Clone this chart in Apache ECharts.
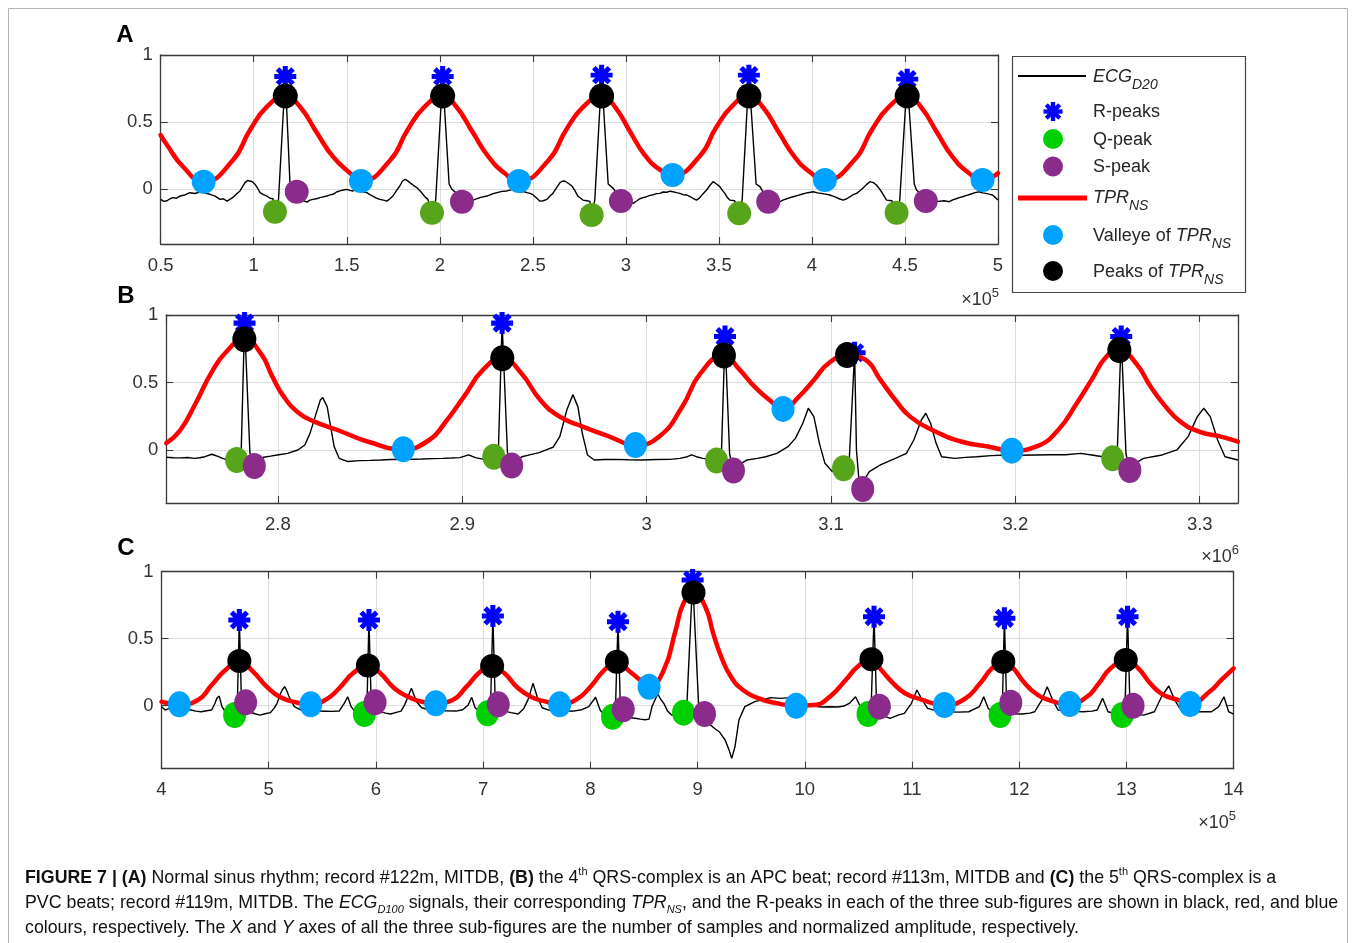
<!DOCTYPE html>
<html>
<head>
<meta charset="utf-8">
<title>FIGURE 7</title>
<script src="https://cdn.jsdelivr.net/npm/echarts@6/dist/echarts.min.js"></script>
<style>
  html, body { margin: 0; padding: 0; background: #fff; }
  #chart { width: 1356px; height: 943px; }
</style>
</head>
<body>
<div id="chart"></div>
<script>
// ---------------- Panel A : record #122m (x in units of 1e5 samples) ----------------
const A_xRange = [0.5, 5];
const A_yRange = [-0.407, 1];
const A_ecg = [
  [0.500,-0.075],[0.517,-0.09],[0.534,-0.085],[0.550,-0.07],[0.566,-0.062],[0.585,-0.066],[0.604,-0.05],[0.630,-0.042],[0.657,-0.025],[0.684,-0.031],[0.711,-0.02],[0.738,-0.028],[0.765,-0.037],[0.792,-0.05],[0.819,-0.075],[0.837,-0.07],[0.856,-0.088],[0.872,-0.075],[0.888,-0.06],[0.907,-0.035],[0.926,-0.012],[0.940,0.02],[0.953,0.05],[0.967,0.066],[0.980,0.062],[0.993,0.055],[1.007,0.037],[1.020,0.01],[1.034,-0.025],[1.052,-0.04],[1.071,-0.05],[1.087,-0.066],[1.103,-0.07],
  [1.114,-0.16],[1.133,-0.08],[1.1695,0.84],[1.195,0.04],[1.211,-0.01],[1.232,-0.03],[1.249,-0.075],[1.268,-0.085],[1.286,-0.095],[1.302,-0.08],[1.318,-0.075],[1.337,-0.07],[1.356,-0.062],[1.374,-0.056],[1.393,-0.05],[1.410,-0.041],[1.426,-0.037],[1.445,-0.02],[1.463,-0.012],[1.482,-0.005],[1.501,0],[1.517,-0.008],[1.533,-0.012],[1.552,-0.004],[1.570,-0.012],[1.589,-0.02],[1.608,-0.025],[1.624,-0.04],[1.640,-0.05],[1.659,-0.065],[1.678,-0.075],[1.697,-0.08],[1.716,-0.088],[1.732,-0.07],[1.748,-0.05],[1.767,-0.01],[1.785,0.025],[1.799,0.06],[1.813,0.075],[1.826,0.065],[1.839,0.05],[1.858,0.03],[1.877,0.012],[1.893,-0.01],[1.909,-0.037],[1.923,-0.06],[1.936,-0.075],
  [1.958,-0.17],[1.978,-0.08],[2.0153,0.84],[2.050,0.04],[2.0653,0.0],[2.090,-0.03],[2.119,-0.085],[2.150,-0.08],[2.170,-0.086],[2.189,-0.075],[2.220,-0.06],[2.253,-0.05],[2.280,-0.035],[2.307,-0.025],[2.335,-0.015],[2.361,-0.012],[2.393,0.0],[2.410,-0.01],[2.431,-0.02],[2.450,-0.016],[2.468,-0.025],[2.485,-0.03],[2.500,-0.04],[2.520,-0.065],[2.538,-0.088],[2.556,-0.085],[2.575,-0.075],[2.592,-0.05],[2.608,-0.03],[2.627,0.01],[2.646,0.05],[2.660,0.062],[2.673,0.06],[2.690,0.045],[2.710,0.025],[2.726,-0.01],[2.742,-0.05],[2.769,-0.08],[2.790,-0.085],[2.807,-0.09],
  [2.816,-0.19],[2.833,-0.08],[2.8697,0.85],[2.905,0.04],[2.932,0.007],[2.955,-0.04],[2.9735,-0.085],[3.000,-0.095],[3.020,-0.09],[3.0395,-0.104],[3.060,-0.085],[3.075,-0.07],[3.093,-0.062],[3.1115,-0.055],[3.130,-0.045],[3.148,-0.04],[3.165,-0.032],[3.183,-0.03],[3.200,-0.02],[3.220,-0.022],[3.237,-0.014],[3.254,-0.018],[3.272,-0.025],[3.290,-0.03],[3.308,-0.04],[3.326,-0.042],[3.353,-0.06],[3.367,-0.072],[3.380,-0.08],[3.395,-0.066],[3.407,-0.045],[3.420,-0.025],[3.434,-0.005],[3.452,0.03],[3.469,0.057],[3.487,0.04],[3.505,0.02],[3.520,-0.01],[3.532,-0.03],[3.545,-0.06],[3.559,-0.08],[3.585,-0.085],
  [3.609,-0.18],[3.625,-0.08],[3.6612,0.85],[3.700,0.04],[3.7205,0.02],[3.745,-0.04],[3.765,-0.088],[3.782,-0.09],[3.800,-0.095],[3.828,-0.092],[3.847,-0.078],[3.865,-0.07],[3.882,-0.062],[3.899,-0.055],[3.925,-0.045],[3.950,-0.035],[3.978,-0.025],[4.007,-0.018],[4.030,-0.026],[4.050,-0.03],[4.073,-0.036],[4.096,-0.042],[4.113,-0.05],[4.130,-0.06],[4.150,-0.072],[4.168,-0.08],[4.187,-0.07],[4.205,-0.055],[4.222,-0.04],[4.240,-0.03],[4.258,-0.01],[4.275,0.01],[4.293,0.035],[4.311,0.057],[4.330,0.05],[4.347,0.032],[4.362,0.005],[4.375,-0.02],[4.388,-0.05],[4.401,-0.08],[4.430,-0.085],
  [4.455,-0.175],[4.472,-0.08],[4.5119,0.82],[4.550,0.04],[4.562,-0.005],[4.590,-0.04],[4.612,-0.087],[4.645,-0.085],[4.680,-0.09],[4.710,-0.085],[4.7376,-0.092],[4.757,-0.078],[4.775,-0.07],[4.792,-0.062],[4.809,-0.055],[4.832,-0.045],[4.855,-0.035],[4.877,-0.025],[4.899,-0.018],[4.918,-0.026],[4.935,-0.03],[4.952,-0.036],[4.9702,-0.042],[4.985,-0.06],[5.000,-0.08]
];
const A_tpr = [
  [0.500,0.404],[0.534,0.330],[0.620,0.168],[0.7311,0.057],[0.8885,0.218],[0.9799,0.442],[1.0712,0.615],[1.1695,0.695],[1.2485,0.615],[1.3399,0.419],[1.4258,0.243],[1.5172,0.121],[1.5763,0.062],
  [1.7343,0.218],[1.8265,0.442],[1.9187,0.615],[2.0153,0.695],[2.0891,0.615],[2.1793,0.419],[2.2613,0.243],[2.3474,0.121],[2.4253,0.062],
  [2.5853,0.218],[2.6786,0.442],[2.7719,0.615],[2.8697,0.695],[2.9384,0.62],[3.0223,0.43],[3.0987,0.26],[3.1788,0.15],[3.2513,0.106],
  [3.3989,0.25],[3.4850,0.46],[3.5711,0.62],[3.6612,0.695],[3.7347,0.615],[3.8246,0.419],[3.9063,0.243],[3.9921,0.125],[4.0697,0.069],
  [4.2289,0.22],[4.3217,0.442],[4.4146,0.615],[4.5119,0.695],[4.5848,0.615],[4.6739,0.419],[4.7550,0.243],[4.8400,0.125],[4.9170,0.069],[5.000,0.12]
];
const A_rPeaks = [[1.1695,0.84],[2.0153,0.84],[2.8697,0.85],[3.6612,0.85],[4.5119,0.82]];
const A_qPeaks = [[1.114,-0.167],[1.958,-0.174],[2.816,-0.191],[3.609,-0.179],[4.455,-0.174]];
const A_sPeaks = [[1.231,-0.018],[2.119,-0.092],[2.9735,-0.087],[3.765,-0.092],[4.612,-0.087]];
const A_valleys = [[0.7311,0.057],[1.5763,0.062],[2.4253,0.062],[3.2513,0.106],[4.0697,0.069],[4.917,0.069]];
const A_tprPeaks = [[1.1695,0.695],[2.0153,0.695],[2.8697,0.695],[3.6612,0.695],[4.5119,0.695]];

// ---------------- Panel B : record #113m (x in units of 1e6 samples) ----------------
const B_xRange = [2.7394, 3.3207];
const B_yRange = [-0.393, 1];
const B_ecg = [
  [2.7394,-0.054],[2.7433,-0.058],[2.7473,-0.059],[2.7510,-0.056],[2.7547,-0.062],[2.7575,-0.058],[2.7604,-0.05],[2.7641,-0.032],[2.7678,-0.05],[2.7700,-0.062],[2.7725,-0.074],[2.7776,-0.074],[2.7800,-0.05],[2.7819,0.94],[2.7848,-0.02],[2.7872,-0.119],[2.7895,-0.09],[2.7921,-0.054],[2.7960,-0.046],[2.7996,-0.037],[2.8052,-0.025],[2.8108,0],[2.8146,0.037],[2.8174,0.123],[2.8202,0.247],[2.8230,0.37],[2.8243,0.388],[2.8267,0.321],[2.8286,0.173],[2.8305,0.025],[2.8332,-0.062],[2.8380,-0.086],[2.8445,-0.079],[2.8500,-0.077],[2.8557,-0.074],[2.8612,-0.071],[2.8669,-0.07],[2.8725,-0.069],[2.8781,-0.067],[2.8840,-0.064],[2.8894,-0.062],[2.8940,-0.06],[2.8987,-0.057],[2.9034,-0.037],[2.9071,-0.057],[2.9118,-0.07],[2.9171,-0.05],[2.9195,-0.04],[2.9216,0.94],[2.9245,-0.02],[2.9268,-0.116],[2.9290,-0.08],[2.9324,-0.05],[2.9370,-0.035],[2.9417,-0.02],[2.9455,0.0],[2.9492,0.02],[2.9529,0.099],[2.9567,0.296],[2.9600,0.41],[2.9627,0.321],[2.9651,0.123],[2.9679,-0.037],[2.9716,-0.074],[2.9770,-0.071],[2.9828,-0.07],[2.9900,-0.072],[2.9978,-0.074],[3.0050,-0.071],[3.0127,-0.07],[3.0180,-0.062],[3.0221,-0.05],[3.0244,-0.037],[3.0270,-0.05],[3.0304,-0.062],[3.0340,-0.07],[3.0379,-0.079],[3.0405,-0.05],[3.0425,0.84],[3.0450,-0.03],[3.0471,-0.153],[3.0500,-0.11],[3.0545,-0.074],[3.0600,-0.062],[3.0646,-0.05],[3.0706,-0.025],[3.0767,0.025],[3.0807,0.086],[3.0847,0.198],[3.0877,0.309],[3.0907,0.247],[3.0937,0.049],[3.0967,-0.099],[3.1007,-0.16],[3.1040,-0.15],[3.1068,-0.136],[3.1098,-0.1],[3.1128,0.72],[3.1138,0.0],[3.1150,-0.198],[3.1172,-0.289],[3.1190,-0.2],[3.1208,-0.16],[3.1268,-0.111],[3.1349,-0.062],[3.1409,-0.025],[3.1449,0.074],[3.1490,0.222],[3.1514,0.272],[3.1540,0.198],[3.1570,0.049],[3.1600,-0.05],[3.1671,-0.062],[3.1730,-0.055],[3.1791,-0.05],[3.1870,-0.042],[3.1952,-0.037],[3.2030,-0.039],[3.2113,-0.037],[3.2190,-0.036],[3.2273,-0.035],[3.2354,-0.025],[3.2414,-0.037],[3.2474,-0.05],[3.2528,-0.062],[3.2552,-0.04],[3.2574,0.84],[3.2600,-0.03],[3.2621,-0.148],[3.2650,-0.1],[3.2695,-0.062],[3.2796,-0.037],[3.2876,0],[3.2937,0.099],[3.2987,0.247],[3.3022,0.309],[3.3057,0.247],[3.3097,0.074],[3.3137,-0.05],[3.3207,-0.074]
];
const B_tpr = [
  [2.7394,0.05],[2.7471,0.148],[2.7554,0.346],[2.7637,0.568],[2.7720,0.728],[2.7818,0.82],[2.7907,0.716],[2.7970,0.543],[2.8032,0.395],[2.8115,0.272],[2.8198,0.21],[2.8323,0.148],[2.8490,0.061],[2.8680,0.005],
  [2.8821,0.074],[2.8904,0.198],[2.9009,0.395],[2.9112,0.593],[2.9217,0.68],[2.9320,0.568],[2.9423,0.37],[2.9528,0.247],[2.9653,0.173],[2.9798,0.099],[2.9939,0.037],
  [3.0068,0.099],[3.0193,0.32],[3.0292,0.568],[3.0419,0.70],[3.0505,0.593],[3.0585,0.469],[3.0666,0.37],[3.0740,0.304],
  [3.0826,0.395],[3.0907,0.519],[3.0987,0.642],[3.1087,0.704],[3.1188,0.667],[3.1268,0.519],[3.1349,0.37],[3.1429,0.247],[3.1549,0.148],[3.1710,0.061],[3.1851,0.025],[3.1981,-0.005],
  [3.2112,0.025],[3.2232,0.148],[3.2333,0.346],[3.2413,0.519],[3.2493,0.691],[3.2564,0.74],[3.2654,0.642],[3.2734,0.469],[3.2815,0.321],[3.2895,0.21],[3.2996,0.136],[3.3116,0.099],[3.3207,0.061]
];
const B_rPeaks = [[2.7819,0.94],[2.9216,0.94],[3.0425,0.84],[3.1128,0.72],[3.2574,0.84]];
const B_qPeaks = [[2.7776,-0.074],[2.9171,-0.05],[3.0379,-0.079],[3.1068,-0.136],[3.2528,-0.062]];
const B_sPeaks = [[2.7872,-0.119],[2.9268,-0.116],[3.0471,-0.153],[3.1172,-0.289],[3.2621,-0.148]];
const B_valleys = [[2.868,0.005],[2.9939,0.037],[3.074,0.304],[3.1981,-0.005]];
const B_tprPeaks = [[2.7818,0.82],[2.9217,0.68],[3.0419,0.70],[3.1087,0.704],[3.2564,0.74]];

// ---------------- Panel C : record #119m (x in units of 1e5 samples) ----------------
const C_xRange = [4, 14];
const C_yRange = [-0.47, 1];
const C_ecg = [
  [4.000,-0.007],[4.035,-0.032],[4.075,-0.02],[4.115,-0.015],[4.160,-0.025],[4.200,-0.03],[4.240,-0.027],[4.275,-0.032],[4.320,-0.04],[4.371,-0.045],[4.420,-0.038],[4.468,-0.032],[4.500,0.02],[4.516,0.055],[4.538,0.072],[4.552,0.03],[4.564,-0.007],[4.596,-0.045],[4.640,-0.06],[4.682,-0.069],[4.705,-0.06],[4.726,0.64],[4.748,-0.04],[4.785,-0.045],[4.821,-0.045],[4.870,-0.06],[4.918,-0.07],[4.965,-0.06],[5.014,-0.052],[5.050,-0.02],[5.078,0.018],[5.110,0.09],[5.126,0.117],[5.149,0.142],[5.170,0.11],[5.190,0.067],[5.239,-0.007],[5.303,-0.032],[5.360,-0.038],[5.420,-0.034],[5.470,-0.04],[5.528,-0.041],[5.590,-0.042],[5.657,-0.04],[5.704,0.018],[5.737,0.067],[5.769,-0.007],[5.801,-0.04],[5.850,-0.055],[5.892,-0.062],[5.915,-0.05],[5.935,0.64],[5.958,-0.04],[6.000,-0.045],[6.042,-0.045],[6.090,-0.055],[6.138,-0.062],[6.190,-0.05],[6.234,-0.04],[6.270,0.01],[6.299,0.067],[6.331,0.13],[6.355,0.08],[6.379,0.03],[6.427,-0.015],[6.490,-0.03],[6.556,-0.032],[6.650,-0.038],[6.748,-0.04],[6.810,-0.03],[6.861,0.006],[6.893,0.063],[6.925,-0.015],[6.973,-0.045],[7.010,-0.052],[7.041,-0.057],[7.068,-0.045],[7.091,0.67],[7.115,-0.035],[7.150,-0.04],[7.199,-0.04],[7.260,-0.052],[7.327,-0.062],[7.380,-0.02],[7.424,0.055],[7.465,0.167],[7.504,0.067],[7.551,-0.015],[7.620,-0.035],[7.680,-0.04],[7.760,-0.042],[7.841,-0.04],[7.920,-0.03],[7.985,-0.007],[8.049,0.063],[8.091,-0.032],[8.130,-0.07],[8.170,-0.078],[8.207,-0.082],[8.233,-0.06],[8.258,0.627],[8.282,-0.06],[8.307,-0.08],[8.360,-0.09],[8.419,-0.094],[8.464,-0.1],[8.510,-0.105],[8.548,-0.1],[8.575,-0.007],[8.612,0.06],[8.630,0.087],[8.655,0.05],[8.685,0.018],[8.720,-0.04],[8.758,-0.07],[8.820,-0.06],[8.869,-0.052],[8.899,-0.02],[8.954,0.938],[9.017,-0.107],[9.065,-0.09],[9.100,-0.13],[9.160,-0.17],[9.202,-0.194],[9.257,-0.256],[9.294,-0.33],[9.319,-0.393],[9.349,-0.306],[9.386,-0.107],[9.441,-0.007],[9.534,0.03],[9.610,0.045],[9.681,0.06],[9.770,0.055],[9.866,0.06],[9.940,0.04],[10.013,0.0],[10.090,-0.005],[10.160,-0.01],[10.230,-0.008],[10.308,-0.01],[10.370,-0.002],[10.419,0.02],[10.474,0.067],[10.511,0.005],[10.560,-0.02],[10.590,-0.05],[10.618,-0.04],[10.646,0.664],[10.672,-0.05],[10.720,-0.07],[10.796,-0.094],[10.870,-0.07],[10.929,-0.057],[10.995,0.018],[11.046,0.117],[11.095,0.043],[11.146,-0.02],[11.240,-0.04],[11.328,-0.045],[11.430,-0.048],[11.529,-0.045],[11.629,-0.007],[11.669,0.067],[11.712,-0.02],[11.762,-0.057],[11.822,-0.069],[11.842,-0.05],[11.862,0.652],[11.885,-0.05],[11.930,-0.06],[12.028,-0.062],[12.100,-0.055],[12.145,-0.045],[12.212,0.043],[12.261,0.142],[12.312,0.043],[12.362,-0.032],[12.480,-0.04],[12.595,-0.045],[12.680,-0.04],[12.728,-0.032],[12.778,0.055],[12.829,-0.045],[12.900,-0.06],[12.961,-0.069],[12.985,-0.05],[13.011,0.664],[13.035,-0.05],[13.090,-0.065],[13.161,-0.07],[13.261,-0.045],[13.328,0.067],[13.395,0.147],[13.451,0.043],[13.507,-0.032],[13.590,-0.04],[13.673,-0.045],[13.794,-0.045],[13.861,-0.007],[13.910,0.067],[13.954,-0.045],[14.000,-0.062]
];
const C_tpr = [
  [4.000,0.03],[4.050,0.02],[4.166,0.01],[4.340,0.043],[4.468,0.154],[4.596,0.266],[4.726,0.334],[4.854,0.254],[4.981,0.142],[5.110,0.063],[5.271,0.022],[5.392,0.01],
  [5.528,0.043],[5.657,0.13],[5.785,0.242],[5.925,0.30],[6.042,0.242],[6.171,0.13],[6.299,0.067],[6.427,0.03],[6.558,0.018],
  [6.716,0.043],[6.845,0.142],[6.973,0.254],[7.084,0.296],[7.199,0.242],[7.327,0.13],[7.455,0.063],[7.584,0.03],[7.714,0.01],
  [7.873,0.048],[8.001,0.142],[8.130,0.266],[8.247,0.328],[8.370,0.254],[8.483,0.18],[8.548,0.142],
  [8.685,0.266],[8.796,0.565],[8.869,0.764],[8.962,0.845],[9.072,0.739],[9.146,0.54],[9.220,0.366],[9.312,0.216],[9.423,0.117],[9.570,0.055],[9.717,0.022],[9.920,0.0],
  [10.087,0.005],[10.234,0.067],[10.382,0.192],[10.493,0.291],[10.622,0.346],[10.714,0.266],[10.825,0.167],[10.935,0.093],[11.082,0.048],[11.302,0.005],
  [11.488,0.048],[11.636,0.167],[11.746,0.279],[11.852,0.328],[11.931,0.291],[12.041,0.179],[12.152,0.093],[12.299,0.037],[12.471,0.013],
  [12.632,0.067],[12.743,0.167],[12.853,0.279],[12.994,0.341],[13.111,0.279],[13.222,0.167],[13.332,0.087],[13.480,0.043],[13.594,0.013],
  [13.775,0.104],[13.886,0.192],[14.000,0.279]
];
const C_rPeaks = [[4.726,0.64],[5.935,0.64],[7.091,0.67],[8.258,0.627],[8.954,0.938],[10.646,0.664],[11.862,0.652],[13.011,0.664]];
const C_qPeaks = [[4.682,-0.069],[5.892,-0.062],[7.041,-0.057],[8.207,-0.082],[8.869,-0.052],[10.590,-0.062],[11.822,-0.069],[12.961,-0.069]];
const C_sPeaks = [[4.785,0.025],[5.992,0.025],[7.141,0.01],[8.307,-0.027],[9.065,-0.062],[10.696,-0.007],[11.922,0.022],[13.062,0.0]];
const C_valleys = [[4.166,0.01],[5.392,0.01],[6.558,0.018],[7.714,0.01],[8.548,0.142],[9.920,0.0],[11.302,0.005],[12.471,0.013],[13.594,0.013]];
const C_tprPeaks = [[4.726,0.334],[5.925,0.30],[7.084,0.296],[8.247,0.328],[8.962,0.845],[10.622,0.346],[11.852,0.328],[12.994,0.341]];

// ---------------- Styling ----------------
const FONT = '"Liberation Sans", Arial, Helvetica, sans-serif';
const COL = {
  ecg: '#000000', tpr: '#ff0000', r: '#0000ff',
  qDark: '#57a51b', qBright: '#00cf00', s: '#8b2c8d',
  valley: '#00a2ff', peak: '#000000',
  axis: '#3a3a3a', grid: '#dddddd', label: '#333333'
};

// 8-armed asterisk marker built from four crossed bars (unit radius)
const STAR_BARS = [0, 45, 90, 135].map(deg => {
  const w = 0.23, a = deg * Math.PI / 180, c = Math.cos(a), s = Math.sin(a);
  return [[-1, -w], [1, -w], [1, w], [-1, w]].map(([x, y]) => [x * c - y * s, x * s + y * c]);
});
const STAR = 'path://' + STAR_BARS.map(b =>
  'M' + b.map(p => p[0].toFixed(4) + ' ' + p[1].toFixed(4)).join(' L') + ' Z').join(' ');

const panels = [
  { key: 'A', rect: { left: 160.7, top: 55, width: 837.3, height: 189 },
    xr: A_xRange, yr: A_yRange, xStep: 0.5,
    ecg: A_ecg, tpr: A_tpr, r: A_rPeaks, q: A_qPeaks, s: A_sPeaks, v: A_valleys, p: A_tprPeaks,
    qColor: COL.qDark, dot: 24, blackDot: 25, star: [22, 21], endLabels: true },
  { key: 'B', rect: { left: 166.2, top: 315, width: 1071.7, height: 188 },
    xr: B_xRange, yr: B_yRange, xStep: null,
    ecg: B_ecg, tpr: B_tpr, r: B_rPeaks, q: B_qPeaks, s: B_sPeaks, v: B_valleys, p: B_tprPeaks,
    qColor: COL.qDark, dot: [23, 26], blackDot: [24, 26], star: [22, 22], endLabels: false },
  { key: 'C', rect: { left: 161.5, top: 571.7, width: 1072.1, height: 197 },
    xr: C_xRange, yr: C_yRange, xStep: 1,
    ecg: C_ecg, tpr: C_tpr, r: C_rPeaks, q: C_qPeaks, s: C_sPeaks, v: C_valleys, p: C_tprPeaks,
    qColor: COL.qBright, dot: [23, 26], blackDot: [24, 24], star: [22, 22], endLabels: true }
];

const option = {
  animation: false,
  backgroundColor: '#ffffff',
  grid: [], xAxis: [], yAxis: [], series: [], graphic: []
};

const axisLine = { show: true, onZero: false, lineStyle: { color: COL.axis, width: 1.3 } };
const axisTick = { show: true, inside: true, length: 7, lineStyle: { color: COL.axis, width: 1.1 } };
const splitLine = { show: true, lineStyle: { color: COL.grid, width: 1 } };
const tickFont = { color: COL.label, fontSize: 18.5, fontFamily: FONT };

panels.forEach((pn, i) => {
  option.grid.push(Object.assign({ outerBoundsMode: 'none', containLabel: false }, pn.rect));

  const xBase = { type: 'value', gridIndex: i, min: pn.xr[0], max: pn.xr[1] };
  if (pn.xStep) xBase.interval = pn.xStep; else xBase.splitNumber = 5;
  option.xAxis.push(Object.assign({}, xBase, {
    position: 'bottom', axisLine, axisTick, splitLine,
    axisLabel: Object.assign({ margin: 12, showMinLabel: pn.endLabels, showMaxLabel: pn.endLabels }, tickFont)
  }));
  option.xAxis.push(Object.assign({}, xBase, {
    position: 'top', axisLine, axisTick, splitLine: { show: false }, axisLabel: { show: false }
  }));

  const yBase = { type: 'value', gridIndex: i, min: pn.yr[0], max: pn.yr[1], splitNumber: 3 };
  option.yAxis.push(Object.assign({}, yBase, {
    position: 'left', axisLine, axisTick, splitLine,
    axisLabel: Object.assign({ margin: 8, showMinLabel: false }, tickFont)
  }));
  option.yAxis.push(Object.assign({}, yBase, {
    position: 'right', axisLine, axisTick, splitLine: { show: false }, axisLabel: { show: false }
  }));

  const ax = { xAxisIndex: 2 * i, yAxisIndex: 2 * i, silent: true };
  const scatter = (data, symbol, size, color, z) => Object.assign({
    type: 'scatter', data, symbol, symbolSize: size, z,
    itemStyle: { color, opacity: 1 }
  }, ax);

  option.series.push(Object.assign({
    name: 'ECG ' + pn.key, type: 'line', data: pn.ecg, showSymbol: false, z: 2,
    lineStyle: { color: COL.ecg, width: 1.4 }
  }, ax));
  option.series.push(scatter(pn.r, STAR, pn.star, COL.r, 3));
  option.series.push(scatter(pn.q, 'circle', pn.dot, pn.qColor, 4));
  option.series.push(scatter(pn.s, 'circle', pn.dot, COL.s, 5));
  option.series.push(Object.assign({
    name: 'TPR ' + pn.key, type: 'line', data: pn.tpr, showSymbol: false, z: 6,
    smooth: 0.5,
    lineStyle: { color: COL.tpr, width: 4.5, join: 'round', cap: 'round' }
  }, ax));
  option.series.push(scatter(pn.v, 'circle', pn.dot, COL.valley, 7));
  option.series.push(scatter(pn.p, 'circle', pn.blackDot, COL.peak, 8));
});

// ---------------- Panel letters and axis multipliers ----------------
const G = option.graphic;
[['A', 125, 35], ['B', 126, 296], ['C', 126, 548]].forEach(([t, x, y]) => {
  G.push({ type: 'text', x, y, z: 20, style: { text: t, fontSize: 24, fontWeight: 'bold', fontFamily: FONT,
    fill: '#000', align: 'center', verticalAlign: 'middle' } });
});
const expRich = {
  m: { fontSize: 18, fontFamily: FONT, fill: COL.label, lineHeight: 26 },
  e: { fontSize: 13, fontFamily: FONT, fill: COL.label, lineHeight: 13, verticalAlign: 'top' }
};
[['5', 999, 300], ['6', 1239, 557], ['5', 1236, 823]].forEach(([p, x, y]) => {
  G.push({ type: 'text', x, y, z: 20, style: { text: '{m|\u00d710}{e|' + p + '}', rich: expRich,
    align: 'right', verticalAlign: 'middle' } });
});

// ---------------- Legend box ----------------
const LX = 1012, LY = 56;
G.push({ type: 'rect', z: 30, shape: { x: LX + 0.5, y: LY + 0.5, width: 233, height: 236 },
  style: { fill: '#fff', stroke: '#444', lineWidth: 1.2 } });
const legRich = {
  n: { fontSize: 18, fontFamily: FONT, fill: '#262626', lineHeight: 30 },
  i: { fontSize: 18, fontFamily: FONT, fontStyle: 'italic', fill: '#262626', lineHeight: 30 },
  b: { fontSize: 14, fontFamily: FONT, fontStyle: 'italic', fill: '#262626', lineHeight: 12, verticalAlign: 'bottom' }
};
const legText = (text, y) => G.push({ type: 'text', z: 31, x: 1093, y,
  style: { text, rich: legRich, align: 'left', verticalAlign: 'middle' } });
G.push({ type: 'line', z: 31, shape: { x1: 1018, y1: 76, x2: 1086, y2: 76 }, style: { stroke: COL.ecg, lineWidth: 2 } });
G.push({ type: 'line', z: 31, shape: { x1: 1018, y1: 198, x2: 1087, y2: 198 }, style: { stroke: COL.tpr, lineWidth: 5 } });
STAR_BARS.forEach(b => {
  G.push({ type: 'polygon', z: 31, x: 1053, y: 111.5, scaleX: 9.5, scaleY: 9.5,
    shape: { points: b }, style: { fill: COL.r } });
});
[[139, COL.qBright], [166.5, COL.s], [235, COL.valley], [271, COL.peak]].forEach(([y, c]) => {
  G.push({ type: 'circle', z: 31, x: 1053, y, shape: { cx: 0, cy: 0, r: 10 }, style: { fill: c } });
});
legText('{i|ECG}{b|D20}', 77);
legText('{n|R-peaks}', 112);
legText('{n|Q-peak}', 140);
legText('{n|S-peak}', 167);
legText('{i|TPR}{b|NS}', 198);
legText('{n|Valleye of }{i|TPR}{b|NS}', 236);
legText('{n|Peaks of }{i|TPR}{b|NS}', 272);

// ---------------- Caption ----------------
const capRich = {
  n: { fontSize: 17.8, fontFamily: FONT, fill: '#111', lineHeight: 24 },
  b: { fontSize: 17.8, fontFamily: FONT, fontWeight: 'bold', fill: '#111', lineHeight: 24 },
  i: { fontSize: 17.8, fontFamily: FONT, fontStyle: 'italic', fill: '#111', lineHeight: 24 },
  sup: { fontSize: 11, fontFamily: FONT, fill: '#111', lineHeight: 10, verticalAlign: 'top' },
  sub: { fontSize: 11, fontFamily: FONT, fontStyle: 'italic', fill: '#111', lineHeight: 12, verticalAlign: 'bottom' }
};
const captionLines = [
  '{b|FIGURE 7 | (A)}{n| Normal sinus rhythm; record #122m, MITDB, }{b|(B)}{n| the 4}{sup|th}{n| QRS-complex is an APC beat; record #113m, MITDB and }{b|(C)}{n| the 5}{sup|th}{n| QRS-complex is a}',
  '{n|PVC beats; record #119m, MITDB. The }{i|ECG}{sub|D100}{n| signals, their corresponding }{i|TPR}{sub|NS}{n|, and the R-peaks in each of the three sub-figures are shown in black, red, and blue}',
  '{n|colours, respectively. The }{i|X}{n| and }{i|Y}{n| axes of all the three sub-figures are the number of samples and normalized amplitude, respectively.}'
];
captionLines.forEach((t, k) => {
  G.push({ type: 'text', z: 20, x: 25, y: 878 + k * 25,
    style: { text: t, rich: capRich, align: 'left', verticalAlign: 'middle' } });
});

// outer frame of the figure
G.push({ type: 'rect', z: 1, shape: { x: 8.5, y: 8.5, width: 1339, height: 960 },
  style: { fill: 'none', stroke: '#b4b4b4', lineWidth: 1 } });

const chart = echarts.init(document.getElementById('chart'), null, { renderer: 'canvas' });
chart.setOption(option);
</script>
</body>
</html>
